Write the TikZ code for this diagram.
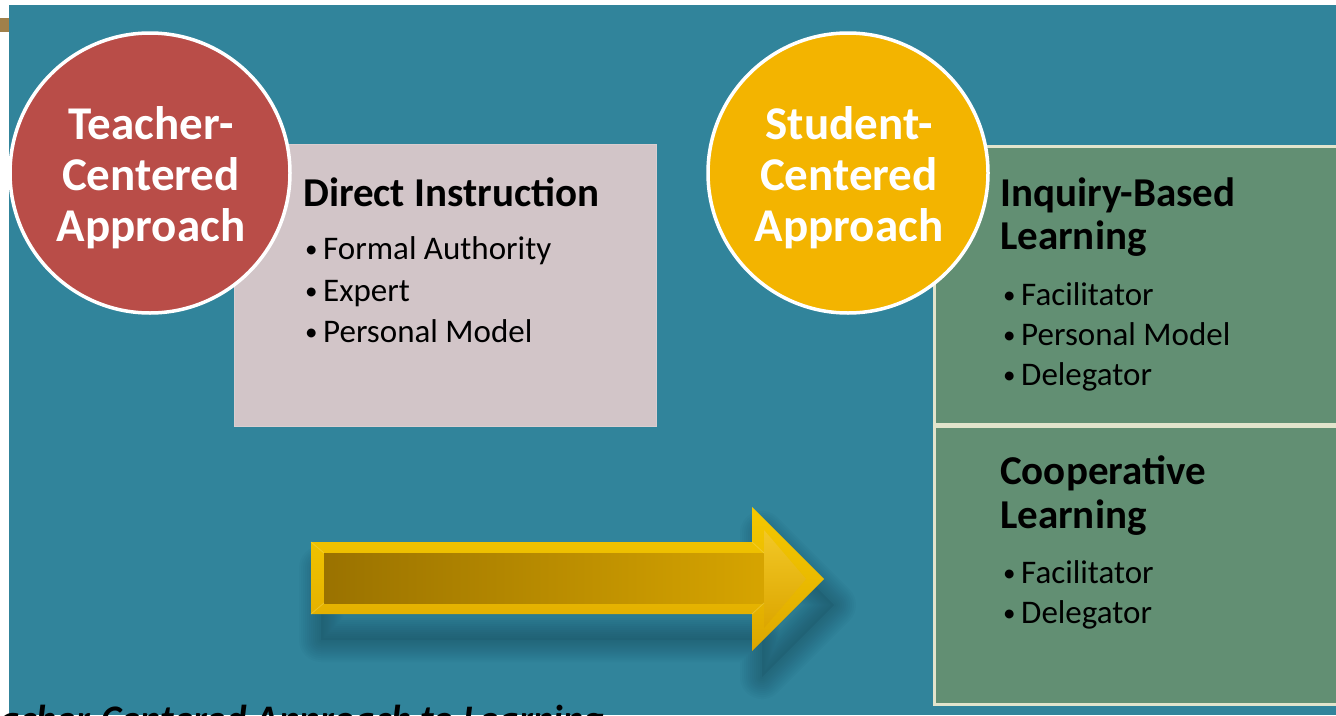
\documentclass[tikz,border=0pt]{standalone}
\usepackage{fontspec}
\setmainfont{Carlito}
\definecolor{slideteal}{HTML}{31849B}
\definecolor{teacherred}{HTML}{B94D48}
\definecolor{studentgold}{HTML}{F3B400}
\definecolor{directpink}{HTML}{D2C5C8}
\definecolor{groupgreen}{HTML}{628F73}
\definecolor{groupedge}{HTML}{E2E4CC}
\definecolor{cornerbrown}{HTML}{A0804A}
\definecolor{arrowlight}{HTML}{F4C800}
\definecolor{arrowmid}{HTML}{DCA600}
\definecolor{arrowdark}{HTML}{9A7200}
\definecolor{arrowface}{HTML}{D6A400}
\definecolor{headface}{HTML}{F0BE00}
\definecolor{shadowblue}{HTML}{0F3A48}

% outline of the big arrow
\def\arrowpath{(311,542) -- (752,542) -- (752,507) -- (824,579) -- (752,651) -- (752,614) -- (311,614) -- cycle}
% small list bullet
\newcommand{\itemdot}{\makebox[18pt][l]{\raisebox{1.5pt}{\fontsize{25}{25}\selectfont\textbullet}}}

\begin{document}
\begin{tikzpicture}[x=1pt,y=-1pt,
    approach/.style={circle, draw=white, line width=3.5pt, minimum size=280pt,
        inner sep=0pt},
    approachtext/.style={text=white, align=center, inner sep=0pt,
        font=\bfseries\fontsize{47}{51}\selectfont},
    panel/.style={anchor=north west, inner sep=0pt},
    heading/.style={anchor=base west, inner sep=0pt,
        font=\bfseries\fontsize{41}{44}\selectfont},
    item/.style={anchor=base west, inner sep=0pt,
        font=\fontsize{33}{40}\selectfont},
  ]
  \useasboundingbox (0,0) rectangle (1336,715);
  \clip (0,0) rectangle (1336,715);

  % slide background
  \fill[white] (0,0) rectangle (1336,715);
  \fill[slideteal] (9,5) rectangle (1336,715);
  \fill[cornerbrown] (0,18) rectangle (9,32);

  % teacher side
  \node[panel, fill=directpink, draw=directpink!85!white, line width=1pt,
        minimum width=422pt, minimum height=282pt] (direct) at (234,144) {};
  \node[approach, fill=teacherred] (teacher) at (150,173) {};
  \node[approachtext] (teacherlabel) at (151,178) {Teacher-\\Centered\\Approach};
  \node[heading] (directhead) at (303,206) {Direct Instruction};
  \node[item] (d1) at (305,259) {\itemdot Formal Authority};
  \node[item] (d2) at (305,301) {\itemdot Expert};
  \node[item] (d3) at (305,342) {\itemdot Personal Model};

  % student side
  \node[panel, fill=groupgreen, draw=groupedge, line width=3pt,
        minimum width=420pt, minimum height=278pt] (inquiry) at (933,145) {};
  \node[panel, fill=groupgreen, draw=groupedge, line width=3pt,
        minimum width=420pt, minimum height=278pt] (coop) at (933,425) {};
  \node[approach, fill=studentgold] (student) at (848,173) {};
  \node[approachtext] (studentlabel) at (849,178) {Student-\\Centered\\Approach};

  \node[heading] (inqhead1) at (1000,206) {Inquiry-Based};
  \node[heading] (inqhead2) at (1000,249) {Learning};
  \node[item] (i1) at (1003,305) {\itemdot Facilitator};
  \node[item] (i2) at (1003,345) {\itemdot Personal Model};
  \node[item] (i3) at (1003,385) {\itemdot Delegator};

  \node[heading] (coophead1) at (1000,484) {Cooperative};
  \node[heading] (coophead2) at (1000,528) {Learning};
  \node[item] (c1) at (1003,583) {\itemdot Facilitator};
  \node[item] (c2) at (1003,623) {\itemdot Delegator};

  % arrow: soft shadow under it
  \begin{scope}[shift={(10,26)}]
    \foreach \w in {44,40,...,4}
      \draw[shadowblue, opacity=.035, line width=\w pt, line join=round] \arrowpath;
    \fill[shadowblue, opacity=.12] \arrowpath;
  \end{scope}
  % bevelled body and head
  \shade[top color=arrowlight, bottom color=arrowmid, middle color=arrowlight!60!arrowmid]
    \arrowpath;
  \shade[left color=arrowdark, right color=arrowface]
    (324,553) -- (764,553) -- (764,603) -- (324,603) -- cycle;
  \shade[top color=headface!85!white, bottom color=arrowmid]
    (764,530) -- (806,579) -- (764,628) -- cycle;
  \draw[arrowlight!60!white, line width=.8pt, opacity=.4]
    (311,542) -- (324,553) (311,614) -- (324,603)
    (752,542) -- (764,553) (752,614) -- (764,603);

  % caption running off the foot of the slide
  \node[anchor=base west, inner sep=0pt,
        font=\bfseries\itshape\fontsize{39}{40}\selectfont] (caption) at (-36,732)
        {Teacher-Centered Approach to Learning};
\end{tikzpicture}
\end{document}
